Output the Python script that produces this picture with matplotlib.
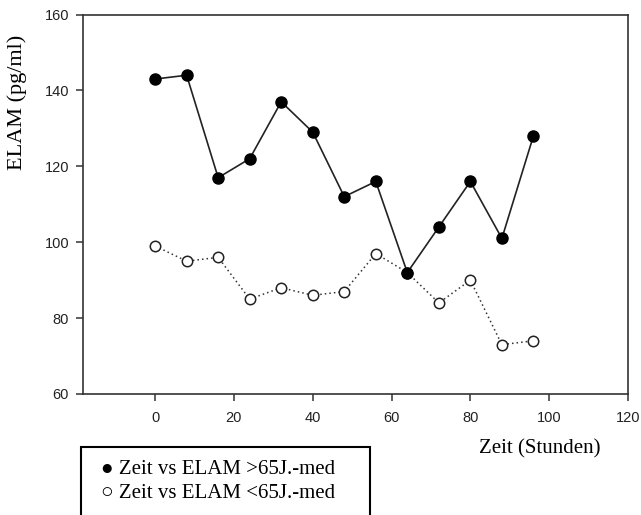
import matplotlib
matplotlib.use('Agg')
from matplotlib import pyplot as plt
from matplotlib.patches import Rectangle

# data
zeit = [0, 8, 16, 24, 32, 40, 48, 56, 64, 72, 80, 88, 96]
elamOver65 = [143, 144, 117, 122, 137, 129, 112, 116, 92, 104, 116, 101, 128]
elamUnder65 = [99, 95, 96, 85, 88, 86, 87, 97, 92, 84, 90, 73, 74]
xTicks = [0, 20, 40, 60, 80, 100, 120]
yTicks = [60, 80, 100, 120, 140, 160]

figure = plt.figure(figsize=(6.41, 5.15), dpi=100)
axis = figure.add_axes([0.1295, 0.235, 0.8502, 0.7368])

axis.plot(zeit, elamUnder65, linestyle=(0, (1, 2)), color='#333333', linewidth=1.1,
          marker='o', markersize=7.5, markerfacecolor='white', markeredgecolor='#222222',
          markeredgewidth=1.1, zorder=2)
axis.plot(zeit, elamOver65, linestyle='-', color='#222222', linewidth=1.2,
          marker='o', markersize=8, markerfacecolor='black', markeredgecolor='black', zorder=3)

axis.set_xlim(-18.3, 120)
axis.set_ylim(60, 160)
axis.set_xticks(xTicks)
axis.set_yticks(yTicks)
for spine in axis.spines.values():
    spine.set_linewidth(1.2)
    spine.set_color('#333333')
axis.tick_params(direction='out', length=5, width=1.1, color='#333333', labelsize=10.5,
                 labelcolor='#222222')
axis.tick_params(axis='x', pad=7)
axis.tick_params(axis='y', pad=5)
for label in axis.get_xticklabels() + axis.get_yticklabels():
    label.set_family('Liberation Sans')

figure.text(17 / 641, 1 - 102 / 515, 'ELAM (pg/ml)', rotation=90, ha='center', va='center',
            family='Liberation Serif', fontsize=16)
figure.text(540 / 641, 1 - 449 / 515, 'Zeit (Stunden)', ha='center', va='center',
            family='Liberation Serif', fontsize=15)

# legend box, cut off at the bottom edge
figure.patches.append(Rectangle((81 / 641, -0.05), 289 / 641, 0.05 + 68 / 515,
                                transform=figure.transFigure, fill=False,
                                edgecolor='black', linewidth=1.5))
figure.text(101 / 641, 1 - 470 / 515, '\u25cf Zeit vs ELAM >65J.-med', ha='left', va='center',
            family=['Liberation Serif', 'DejaVu Sans'], fontsize=15)
figure.text(101 / 641, 1 - 493 / 515, '\u25cb Zeit vs ELAM <65J.-med', ha='left', va='center',
            family=['Liberation Serif', 'DejaVu Sans'], fontsize=15)

plt.savefig('out.png', dpi=100)
